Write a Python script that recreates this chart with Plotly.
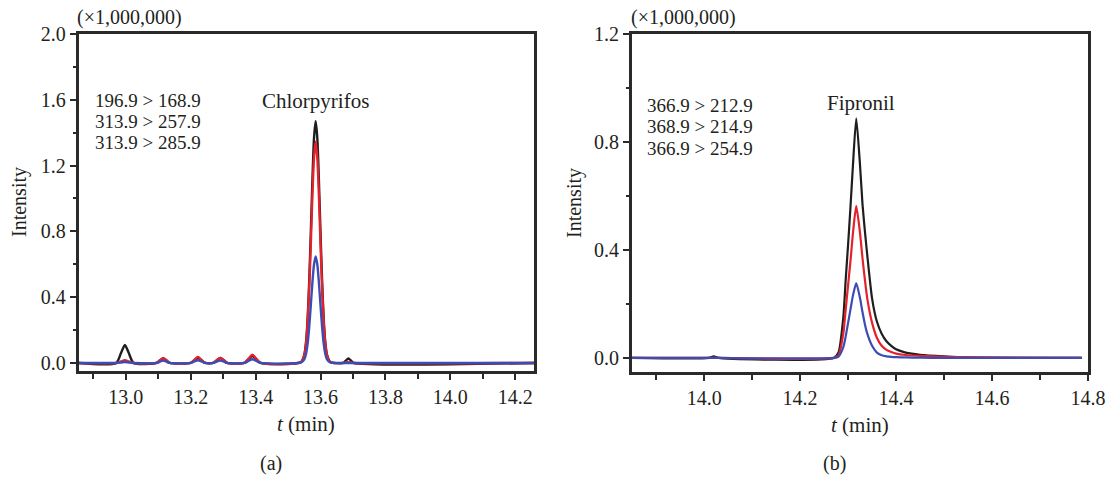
import plotly.graph_objects as go

# ---------------- Chlorpyrifos chromatogram (panel a) ----------------
t_a = [12.854, 12.970, 12.985, 12.997, 13.009, 13.024,
       13.095, 13.105, 13.115, 13.125, 13.135,
       13.200, 13.211, 13.222, 13.233, 13.244,
       13.270, 13.280, 13.291, 13.302, 13.312,
       13.365, 13.378, 13.390, 13.402, 13.415,
       13.540, 13.550, 13.555, 13.560, 13.565, 13.570, 13.575, 13.580,
       13.585, 13.590, 13.595, 13.600, 13.605, 13.610, 13.615, 13.620,
       13.630, 13.670, 13.678, 13.686, 13.694, 13.702, 14.258]

chl_196_169 = [0.0, 0.0, 0.06, 0.11, 0.06, 0.0,
               0.0, 0.015, 0.028, 0.015, 0.0,
               0.0, 0.016, 0.030, 0.016, 0.0,
               0.0, 0.016, 0.030, 0.016, 0.0,
               0.0, 0.022, 0.042, 0.022, 0.0,
               0.006, 0.05, 0.12, 0.26, 0.49, 0.79, 1.11, 1.37,
               1.47, 1.37, 1.11, 0.79, 0.49, 0.26, 0.12, 0.05,
               0.006, 0.0, 0.014, 0.027, 0.014, 0.0, 0.0]

chl_314_258 = [0.0, 0.0, 0.009, 0.016, 0.009, 0.0,
               0.0, 0.016, 0.030, 0.016, 0.0,
               0.0, 0.019, 0.036, 0.019, 0.0,
               0.0, 0.016, 0.030, 0.016, 0.0,
               0.0, 0.026, 0.050, 0.026, 0.0,
               0.005, 0.046, 0.11, 0.24, 0.45, 0.72, 1.02, 1.25,
               1.345, 1.25, 1.02, 0.72, 0.45, 0.24, 0.11, 0.046,
               0.005, 0.0, 0.003, 0.005, 0.003, 0.0, 0.0]

chl_314_286 = [0.0, 0.0, 0.003, 0.006, 0.003, 0.0,
               0.0, 0.008, 0.014, 0.008, 0.0,
               0.0, 0.009, 0.016, 0.009, 0.0,
               0.0, 0.008, 0.014, 0.008, 0.0,
               0.0, 0.012, 0.022, 0.012, 0.0,
               0.003, 0.022, 0.053, 0.114, 0.216, 0.35, 0.49, 0.60,
               0.647, 0.60, 0.49, 0.35, 0.216, 0.114, 0.053, 0.022,
               0.003, 0.0, 0.0, 0.0, 0.0, 0.0, 0.0]

labels_a = ["196.9 > 168.9", "313.9 > 257.9", "313.9 > 285.9"]
label_y_a = [1.598, 1.469, 1.339]

# ---------------- Fipronil chromatogram (panel b) ----------------
t_b = [13.849, 14.010, 14.020, 14.030, 14.270, 14.280, 14.290, 14.295,
       14.300, 14.305, 14.310, 14.317, 14.325, 14.330, 14.335, 14.340,
       14.350, 14.360, 14.370, 14.380, 14.390, 14.400, 14.420, 14.450,
       14.500, 14.550, 14.787]

fip_367_213 = [0.0, 0.0, 0.006, 0.0, 0.0, 0.02, 0.15, 0.29,
               0.42, 0.56, 0.71, 0.888, 0.71, 0.57, 0.47, 0.38,
               0.22, 0.135, 0.09, 0.062, 0.045, 0.032, 0.02, 0.012,
               0.006, 0.002, 0.0]

fip_369_215 = [0.0, 0.0, 0.0, 0.0, 0.0, 0.01, 0.09, 0.18,
               0.27, 0.36, 0.46, 0.563, 0.46, 0.37, 0.29, 0.22,
               0.13, 0.075, 0.045, 0.03, 0.022, 0.016, 0.011, 0.008,
               0.004, 0.002, 0.0]

fip_367_255 = [0.0, 0.0, 0.0, 0.0, 0.0, 0.005, 0.04, 0.08,
               0.13, 0.18, 0.23, 0.277, 0.22, 0.17, 0.125, 0.09,
               0.045, 0.02, 0.01, 0.006, 0.004, 0.003, 0.002, 0.001,
               0.0, 0.0, 0.0]

labels_b = ["366.9 > 212.9", "368.9 > 214.9", "366.9 > 254.9"]
label_y_b = [0.935, 0.856, 0.776]

COLORS = ["#1e1e1e", "#e3222b", "#3d4cb2"]
FONT = "Liberation Serif"
TXT = "#231f20"
FRAME = "#2a2a2a"

W, H = 1111, 477


def px_x(p):
    return p / W


def px_y(p):
    return 1 - p / H


fig = go.Figure()

for ys, c in zip([chl_196_169, chl_314_258, chl_314_286], COLORS):
    fig.add_trace(go.Scatter(x=t_a, y=ys, mode="lines", xaxis="x", yaxis="y",
                             line=dict(color=c, width=2.4, shape="spline", smoothing=0.7),
                             showlegend=False))
for ys, c in zip([fip_367_213, fip_369_215, fip_367_255], COLORS):
    fig.add_trace(go.Scatter(x=t_b, y=ys, mode="lines", xaxis="x2", yaxis="y2",
                             line=dict(color=c, width=2.2, shape="spline", smoothing=0.6),
                             showlegend=False))

axis_common = dict(showline=True, mirror=True, linecolor=FRAME, linewidth=2.5,
                   showgrid=False, zeroline=False, ticks="outside", tickwidth=2,
                   tickcolor=FRAME, ticklen=6, automargin=False,
                   tickfont=dict(family=FONT, size=20, color=TXT))


def minor(dt, t0, ln):
    return dict(ticks="outside", dtick=dt, tick0=t0, ticklen=ln,
                tickwidth=2, tickcolor=FRAME)


fig.update_layout(
    template="none",
    width=W, height=H, margin=dict(l=0, r=0, t=0, b=0, autoexpand=False),
    paper_bgcolor="white", plot_bgcolor="white",
    xaxis=dict(axis_common, domain=[px_x(78.5), px_x(534)], range=[12.854, 14.258],
               anchor="y", dtick=0.2, tick0=13.0, tickformat=".1f",
               minor=minor(0.1, 13.0, 5)),
    yaxis=dict(axis_common, domain=[px_y(371), px_y(34)], range=[-0.049, 2.0],
               anchor="x", dtick=0.4, tick0=0, tickformat=".1f",
               minor=minor(0.2, 0, 3)),
    xaxis2=dict(axis_common, domain=[px_x(631.7), px_x(1088)], range=[13.849, 14.8],
                anchor="y2", dtick=0.2, tick0=14.0, tickformat=".1f",
                minor=minor(0.1, 14.0, 5)),
    yaxis2=dict(axis_common, domain=[px_y(372), px_y(34)], range=[-0.052, 1.2],
                anchor="x2", dtick=0.4, tick0=0, tickformat=".1f",
                minor=minor(0.2, 0, 3)),
)

ann = []


def text(x, y, s, xref="paper", yref="paper", xanchor="center", yanchor="middle",
         size=20, angle=0):
    ann.append(dict(x=x, y=y, xref=xref, yref=yref, text=s, showarrow=False,
                    xanchor=xanchor, yanchor=yanchor, textangle=angle, borderpad=0,
                    font=dict(family=FONT, size=size, color=TXT)))


# multiplier labels above each frame
text(px_x(76), px_y(18), "(×1,000,000)", xanchor="left")
text(px_x(630), px_y(18), "(×1,000,000)", xanchor="left")

# axis titles
text(px_x(19), px_y(202), "Intensity", angle=-90)
text(px_x(574), px_y(203), "Intensity", angle=-90)
text(px_x(306), px_y(424), "<i>t</i> (min)", size=21)
text(px_x(860), px_y(425), "<i>t</i> (min)", size=21)

# panel captions
text(px_x(271), px_y(463), "(a)")
text(px_x(834), px_y(463), "(b)")

# compound names above the peaks
text(13.585, 1.592, "Chlorpyrifos", xref="x", yref="y", size=21)
text(14.327, 0.945, "Fipronil", xref="x2", yref="y2", size=21)

# MRM transitions
for s, yv in zip(labels_a, label_y_a):
    text(12.901, yv, s, xref="x", yref="y", xanchor="left", size=19)
for s, yv in zip(labels_b, label_y_b):
    text(13.879, yv, s, xref="x2", yref="y2", xanchor="left", size=19)

fig.update_layout(annotations=ann)
fig.write_html("out.html")
